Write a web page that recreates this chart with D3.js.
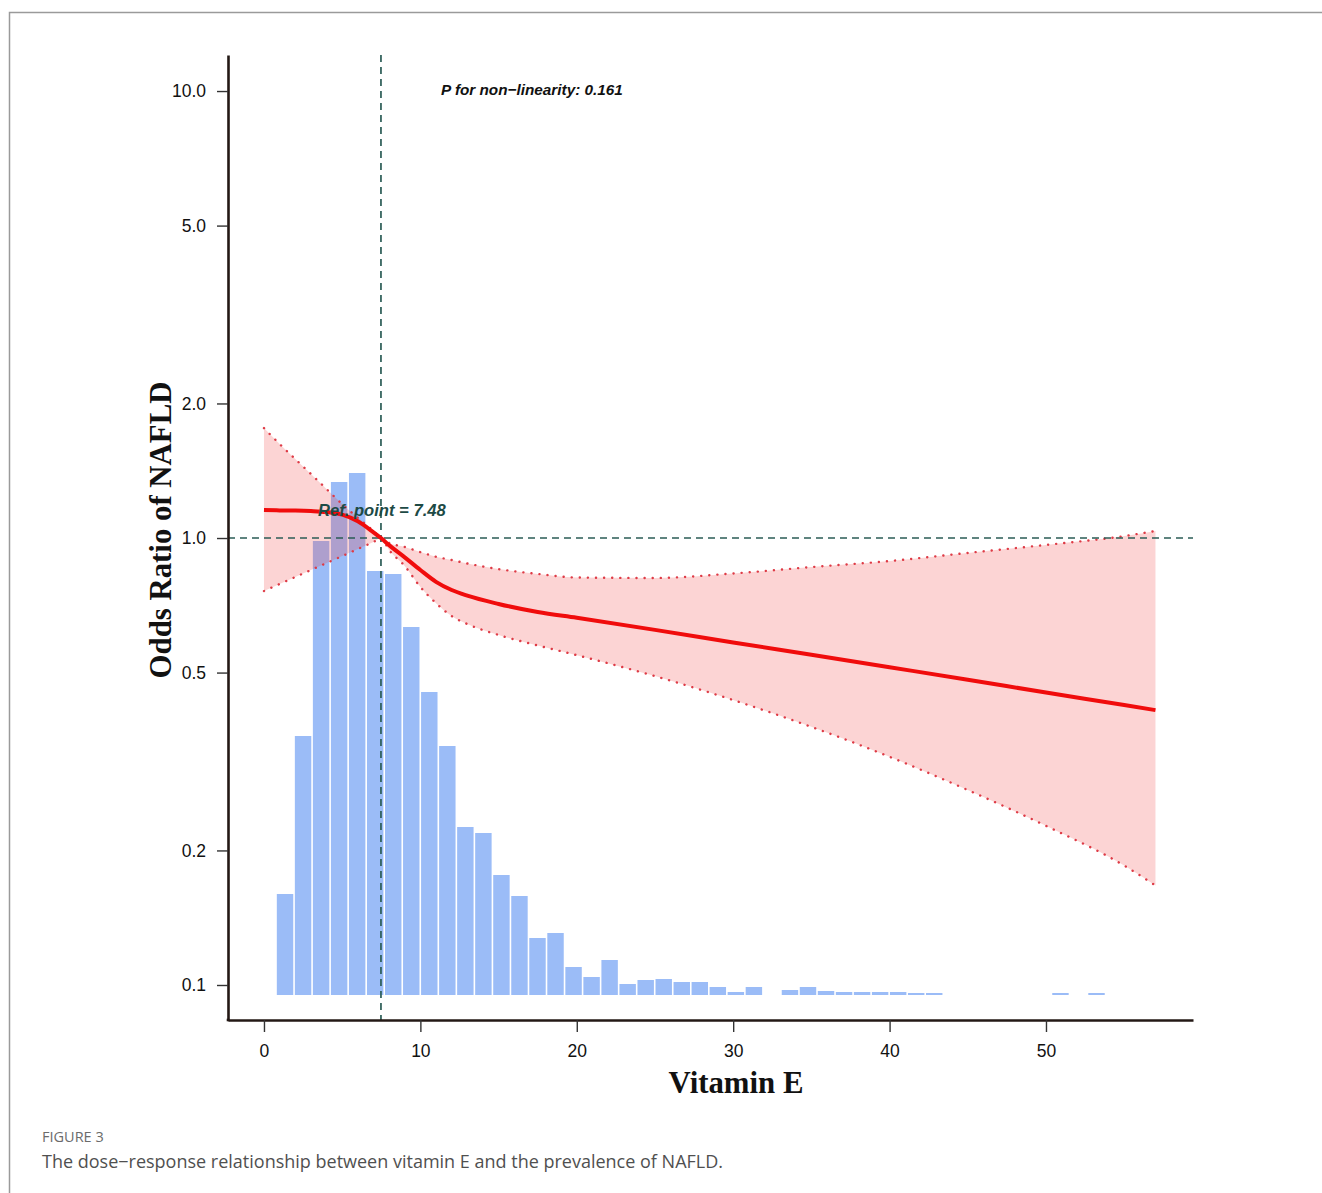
<!DOCTYPE html>
<html>
<head>
<meta charset="utf-8">
<script src="https://cdn.jsdelivr.net/npm/d3@7"></script>
<style>
  html, body { margin: 0; padding: 0; background: #fff; }
  svg { display: block; }
</style>
</head>
<body>
<div id="chart"></div>
<script>
// ── Data ──────────────────────────────────────────────────────────────────
// Restricted cubic spline estimate (odds ratio) with 95% CI
const splineX = [0, 1, 2, 3, 4, 5, 6, 7, 7.48, 8, 9, 10, 11, 12, 13, 15, 17.5, 20, 25, 30, 35, 40, 45, 50, 55, 57];
const splineOR = [1.155, 1.153, 1.152, 1.149, 1.143, 1.128, 1.09, 1.03, 1.0, 0.964, 0.905, 0.848, 0.798, 0.765, 0.743, 0.712, 0.683, 0.663, 0.623, 0.584, 0.548, 0.514, 0.482, 0.451, 0.423, 0.412];
const splineUpper = [1.762, 1.623, 1.502, 1.391, 1.287, 1.191, 1.11, 1.037, 1.0, 0.975, 0.955, 0.930, 0.908, 0.893, 0.877, 0.852, 0.831, 0.816, 0.814, 0.833, 0.861, 0.888, 0.926, 0.965, 1.010, 1.037];
const splineLower = [0.761, 0.789, 0.818, 0.848, 0.879, 0.911, 0.945, 0.980, 1.0, 0.94, 0.866, 0.777, 0.715, 0.669, 0.642, 0.607, 0.575, 0.547, 0.491, 0.434, 0.378, 0.324, 0.273, 0.227, 0.185, 0.167];

// Distribution of vitamin E intake (histogram counts, relative)
const histStart = 0.77;
const histBinWidth = 1.153;
const histCounts = [101, 259, 454, 513, 522, 424, 421, 368, 303, 249, 168, 162, 120, 99, 57, 62, 28, 18, 35, 11,
  15, 16, 13, 13, 8, 3, 8, 0, 5, 8, 4, 3, 3, 3, 3, 2, 2, 0, 0, 0, 0, 0, 0, 2, 0, 2];

const yTicks = [0.1, 0.2, 0.5, 1.0, 2.0, 5.0, 10.0];
const xTicks = [0, 10, 20, 30, 40, 50];
const refPoint = 7.48;
const pNonLinear = 0.161;

// ── Layout ────────────────────────────────────────────────────────────────
const W = 1322, H = 1193;
const plot = { left: 228, right: 1193, top: 55, bottom: 1020 };
const histBase = 995;
const histTop = 473;

const svg = d3.select('#chart').append('svg')
  .attr('width', W).attr('height', H)
  .attr('viewBox', `0 0 ${W} ${H}`);

// figure frame (journal panel)
svg.append('path')
  .attr('d', `M9.5,${H} L9.5,12.5 L${W},12.5`)
  .attr('fill', 'none')
  .attr('stroke', '#9a9a9a')
  .attr('stroke-width', 1.5);

const x = d3.scaleLinear().domain([-2.3, 59.4]).range([plot.left, plot.right]);
const y = d3.scaleLog().domain([0.0835, 12.04]).range([plot.bottom, plot.top]);
const yHist = d3.scaleLinear().domain([0, d3.max(histCounts)]).range([histBase, histTop]);

// ── Histogram ─────────────────────────────────────────────────────────────
const binPx = x(histBinWidth) - x(0);
svg.append('g').attr('class', 'hist')
  .selectAll('rect')
  .data(histCounts.map((c, i) => ({ c, lo: histStart + i * histBinWidth })).filter(d => d.c > 0))
  .join('rect')
  .attr('x', d => x(d.lo) + 0.8)
  .attr('width', binPx - 1.6)
  .attr('y', d => yHist(d.c))
  .attr('height', d => histBase - yHist(d.c))
  .attr('fill', '#9bbcf7');

// ── Confidence band ───────────────────────────────────────────────────────
const pts = splineX.map((v, i) => ({ v, or: splineOR[i], lo: splineLower[i], hi: splineUpper[i] }));

svg.append('path')
  .datum(pts)
  .attr('d', d3.area().curve(d3.curveMonotoneX)
    .x(d => x(d.v)).y0(d => y(d.lo)).y1(d => y(d.hi)))
  .attr('fill', 'rgb(240,60,60)')
  .attr('fill-opacity', 0.22);

['lo', 'hi'].forEach(k => {
  svg.append('path')
    .datum(pts)
    .attr('d', d3.line().curve(d3.curveMonotoneX).x(d => x(d.v)).y(d => y(d[k])))
    .attr('fill', 'none')
    .attr('stroke', '#de3b46')
    .attr('stroke-width', 2.4)
    .attr('stroke-linecap', 'round')
    .attr('stroke-dasharray', '0.1,8');
});

// ── Reference lines ───────────────────────────────────────────────────────
svg.append('line')
  .attr('x1', plot.left).attr('x2', plot.right)
  .attr('y1', y(1)).attr('y2', y(1))
  .attr('stroke', '#2b5c55').attr('stroke-width', 1.7)
  .attr('stroke-dasharray', '7,5');

svg.append('line')
  .attr('x1', x(refPoint)).attr('x2', x(refPoint))
  .attr('y1', plot.top).attr('y2', plot.bottom)
  .attr('stroke', '#2b5c55').attr('stroke-width', 1.7)
  .attr('stroke-dasharray', '7,5');

// ── Spline estimate ───────────────────────────────────────────────────────
svg.append('path')
  .datum(pts)
  .attr('d', d3.line().curve(d3.curveMonotoneX).x(d => x(d.v)).y(d => y(d.or)))
  .attr('fill', 'none')
  .attr('stroke', '#f00c0c')
  .attr('stroke-width', 4);

// ── Axes ──────────────────────────────────────────────────────────────────
const yAxis = svg.append('g')
  .attr('transform', `translate(${plot.left},0)`)
  .call(d3.axisLeft(y).tickValues(yTicks).tickFormat(d3.format('.1f')).tickSize(11).tickSizeOuter(0).tickPadding(11));

const xAxis = svg.append('g')
  .attr('transform', `translate(0,${plot.bottom})`)
  .call(d3.axisBottom(x).tickValues(xTicks).tickFormat(d3.format('d')).tickSize(12).tickSizeOuter(0).tickPadding(13));

[yAxis, xAxis].forEach(g => {
  g.select('.domain').attr('stroke', '#231815').attr('stroke-width', 2.6);
  g.selectAll('.tick line').attr('stroke', '#333').attr('stroke-width', 1.4);
  g.selectAll('.tick text')
    .attr('fill', '#111')
    .style('font-family', '"Liberation Sans", Arial, sans-serif')
    .style('font-size', '17.5px');
});
// square off the axis corner
svg.append('rect')
  .attr('x', plot.left - 1.3).attr('y', plot.bottom - 1.3)
  .attr('width', 2.6).attr('height', 2.6).attr('fill', '#231815');

// axis titles
svg.append('text')
  .attr('x', 736)
  .attr('y', 1093)
  .attr('text-anchor', 'middle')
  .style('font-family', '"Liberation Serif", "Times New Roman", serif')
  .style('font-weight', 'bold')
  .style('font-size', '30.8px')
  .attr('fill', '#111')
  .text('Vitamin E');

svg.append('text')
  .attr('transform', `translate(171,${530}) rotate(-90)`)
  .attr('text-anchor', 'middle')
  .style('font-family', '"Liberation Serif", "Times New Roman", serif')
  .style('font-weight', 'bold')
  .style('font-size', '30.8px')
  .attr('fill', '#111')
  .text('Odds Ratio of NAFLD');

// annotations
svg.append('text')
  .attr('x', 441).attr('y', 95)
  .style('font-family', '"Liberation Sans", Arial, sans-serif')
  .style('font-weight', 'bold').style('font-style', 'italic')
  .style('font-size', '15.3px')
  .attr('fill', '#111')
  .text(`P for non\u2212linearity: ${pNonLinear}`);

svg.append('text')
  .attr('x', 318).attr('y', 516)
  .style('font-family', '"Liberation Sans", Arial, sans-serif')
  .style('font-weight', 'bold').style('font-style', 'italic')
  .style('font-size', '16.6px')
  .attr('fill', '#1d4a45')
  .text(`Ref. point = ${refPoint}`);

// ── Caption ───────────────────────────────────────────────────────────────
svg.append('text')
  .attr('x', 42).attr('y', 1142)
  .style('font-family', '"Open Sans", "Noto Sans", sans-serif')
  .style('font-size', '14.5px')
  .attr('fill', '#6b6b6b')
  .text('FIGURE 3');

svg.append('text')
  .attr('x', 42).attr('y', 1168)
  .style('font-family', '"Open Sans", "Noto Sans", sans-serif')
  .style('font-size', '18px')
  .attr('fill', '#505050')
  .text('The dose\u2212response relationship between vitamin E and the prevalence of NAFLD.');
</script>
</body>
</html>
